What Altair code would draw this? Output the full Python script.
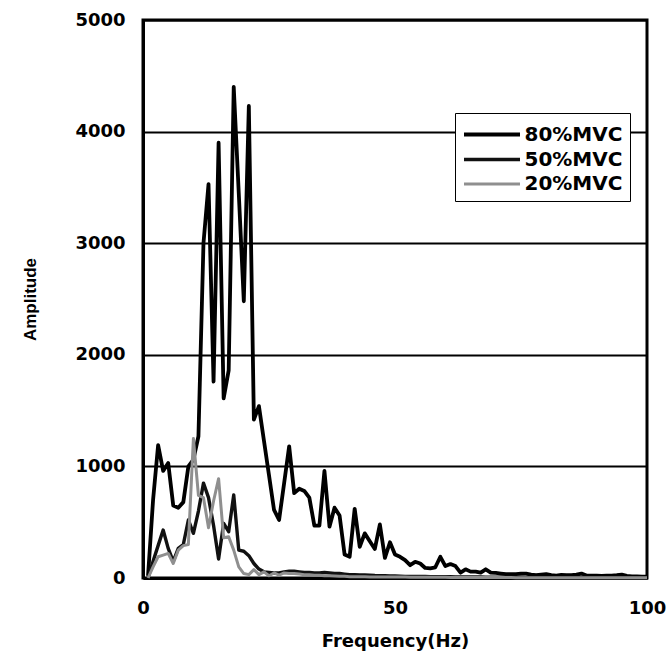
import altair as alt
import pandas as pd

freq_hz = list(range(1, 101))

mvc80 = [20, 700, 1190, 960, 1030, 650, 630, 680, 1000, 1060,
         1270, 3000, 3530, 1760, 3900, 1610, 1860, 4400, 3450, 2480,
         4230, 1420, 1540, 1230, 920, 610, 520, 850, 1180, 760,
         800, 780, 720, 470, 470, 960, 460, 630, 560, 210,
         190, 620, 280, 400, 330, 260, 480, 180, 320, 210,
         190, 160, 115, 145, 130, 90, 87, 96, 190, 107,
         125, 107, 48, 78, 57, 57, 48, 78, 48, 45,
         40, 35, 35, 35, 40, 40, 30, 25, 30, 35,
         25, 22, 28, 25, 25, 30, 40, 22, 20, 22,
         18, 20, 22, 25, 30, 20, 15, 15, 12, 12]

mvc50 = [0, 150, 290, 430, 265, 150, 265, 300, 520, 400,
         600, 850, 720, 470, 170, 490, 415, 745, 250, 240,
         200, 130, 80, 55, 50, 45, 45, 55, 60, 60,
         55, 50, 50, 45, 45, 50, 45, 40, 40, 35,
         30, 30, 28, 27, 25, 22, 20, 20, 18, 18,
         16, 15, 15, 14, 14, 13, 12, 12, 12, 11,
         11, 10, 10, 10, 9, 9, 9, 8, 8, 8,
         8, 7, 7, 7, 7, 6, 6, 6, 6, 6,
         5, 5, 5, 5, 5, 5, 5, 4, 4, 4,
         4, 4, 4, 4, 4, 3, 3, 3, 3, 3]

mvc20 = [0, 100, 190, 205, 220, 130, 250, 290, 300, 1250,
         740, 720, 450, 690, 890, 360, 370, 250, 100, 40,
         30, 75, 30, 55, 20, 45, 25, 45, 40, 40,
         35, 30, 30, 25, 25, 20, 20, 18, 15, 15,
         12, 12, 11, 11, 10, 10, 9, 9, 9, 8,
         8, 8, 7, 7, 7, 7, 6, 6, 6, 6,
         5, 5, 5, 5, 5, 5, 4, 4, 4, 4,
         4, 4, 4, 3, 3, 3, 3, 3, 3, 3,
         3, 3, 3, 2, 2, 2, 2, 2, 2, 2,
         2, 2, 2, 2, 2, 2, 2, 2, 2, 2]

series_names = ["80%MVC", "50%MVC", "20%MVC"]
series_vals = [mvc80, mvc50, mvc20]

rows = []
for order, (name, vals) in enumerate(zip(series_names, series_vals)):
    for f, v in zip(freq_hz, vals):
        rows.append({"freq": f, "amp": v, "series": name, "ord": order})
df = pd.DataFrame(rows)

FONT = "DejaVu Sans"

chart = alt.Chart(df).mark_line(strokeJoin="round").encode(
    x=alt.X("freq:Q",
            scale=alt.Scale(domain=[0, 100], nice=False),
            axis=alt.Axis(title="Frequency(Hz)", values=[0, 50, 100], grid=False,
                          format="d", labelFlush=False,
                          ticks=False, labelPadding=21, labelFontSize=18,
                          labelFontWeight="bold", titleFontSize=18,
                          titleFontWeight="bold", titlePadding=15,
                          domainColor="black", domainWidth=3,
                          labelColor="black", titleColor="black",
                          labelFont=FONT, titleFont=FONT)),
    y=alt.Y("amp:Q",
            scale=alt.Scale(domain=[0, 5000], nice=False),
            axis=alt.Axis(title="Amplitude", values=[0, 1000, 2000, 3000, 4000, 5000],
                          format="d", labelFlush=False,
                          grid=True, gridColor="black", gridWidth=1.8, gridOpacity=1,
                          ticks=False, labelPadding=18, labelFontSize=18,
                          labelFontWeight="bold", titleFontSize=17,
                          titleFontWeight="bold", titlePadding=35,
                          domainColor="black", domainWidth=3,
                          labelColor="black", titleColor="black",
                          labelFont=FONT, titleFont="Liberation Sans")),
    color=alt.Color("series:N",
                    scale=alt.Scale(domain=series_names, range=["#000000", "#111111", "#8f8f8f"]),
                    legend=alt.Legend(title=None, orient="none", legendX=312, legendY=93,
                                      symbolType="M-2.24,0H2.24", symbolSize=625,
                                      symbolOffset=15.5,
                                      symbolStrokeWidth=3, labelFontSize=20,
                                      labelFontWeight="bold", labelFont=FONT,
                                      labelColor="black", strokeColor="black",
                                      fillColor="white", padding=7, rowPadding=0,
                                      labelOffset=18, cornerRadius=0)),
    strokeWidth=alt.StrokeWidth("series:N",
                                scale=alt.Scale(domain=series_names, range=[3.8, 3.0, 2.6]),
                                legend=None),
    order=alt.Order("ord:Q"),
    detail="series:N",
).properties(
    width=504,
    height=558,
    autosize=alt.AutoSizeParams(type="none"),
    padding={"left": 143, "top": 20, "right": 24, "bottom": 86},
    background="white",
).configure_view(
    stroke="black",
    strokeWidth=3,
)

chart.save("out.html", embed_options={"renderer": "svg", "actions": False})
